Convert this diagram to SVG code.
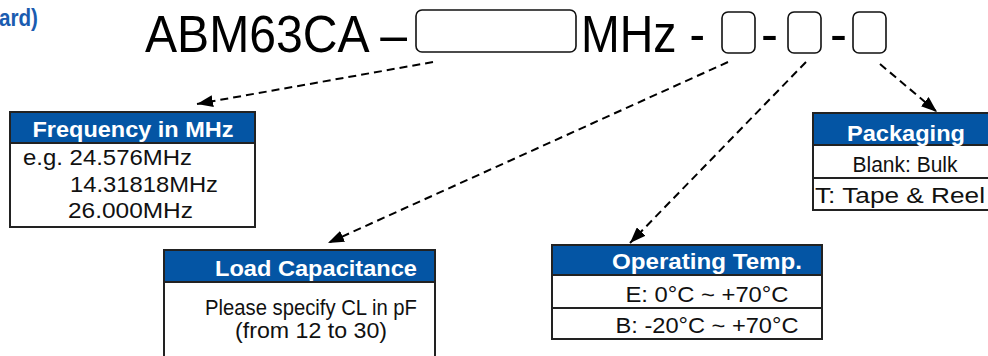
<svg xmlns="http://www.w3.org/2000/svg" width="988" height="356" viewBox="0 0 988 356">
<defs>
<marker id="ah" viewBox="0 0 16 12" refX="16" refY="6" markerWidth="16" markerHeight="12" markerUnits="userSpaceOnUse" orient="auto">
<path d="M0,0 L16,6 L0,12 z" fill="#000"/>
</marker>
<style>
.t{font-family:"Liberation Sans",Arial,sans-serif;fill:#000}
.h{font-family:"Liberation Sans",Arial,sans-serif;font-weight:bold;fill:#fff;font-size:21.5px}
.b{font-family:"Liberation Sans",Arial,sans-serif;fill:#111;font-size:21.5px}
.hd{fill:#0455a4}
.bx{fill:#fff;stroke:#222;stroke-width:2}
.sl{stroke:#222;stroke-width:2}
.fld{fill:#fff;stroke:#111;stroke-width:1.6}
.c{fill:none;stroke:#000;stroke-width:2;stroke-dasharray:8 5}
</style>
</defs>
<rect width="988" height="356" fill="#fff"/>
<text x="-1" y="26" style="font-family:'Liberation Sans',Arial,sans-serif;font-weight:bold;font-size:23px;fill:#1a5cb0" textLength="39" lengthAdjust="spacingAndGlyphs">ard)</text>
<g id="title">
<text class="t" x="145" y="52" font-size="51" textLength="262" lengthAdjust="spacingAndGlyphs">ABM63CA –</text>
<rect class="fld" x="416" y="10" width="160" height="42" rx="6"/>
<text class="t" x="581" y="52" font-size="51" textLength="124" lengthAdjust="spacingAndGlyphs">MHz -</text>
<rect class="fld" x="722" y="12" width="33" height="41" rx="6"/>
<text class="t" x="761" y="52" font-size="51">-</text>
<rect class="fld" x="788" y="12" width="33" height="41" rx="6"/>
<text class="t" x="830" y="52" font-size="51">-</text>
<rect class="fld" x="853" y="12" width="33" height="41" rx="6"/>
</g>
<g id="connectors">
<line class="c" x1="433" y1="62" x2="197" y2="104" marker-end="url(#ah)"/>
<line class="c" x1="728" y1="62" x2="328" y2="243" marker-end="url(#ah)"/>
<line class="c" x1="806" y1="62" x2="630" y2="243" marker-end="url(#ah)"/>
<line class="c" x1="880" y1="64" x2="937" y2="112" marker-end="url(#ah)"/>
</g>
<g id="frequency">
<rect class="bx" x="10" y="112" width="245" height="115"/>
<rect class="hd" x="11" y="113" width="243" height="30"/>
<line class="sl" x1="10" y1="143" x2="255" y2="143"/>
<text class="h" x="133" y="137" text-anchor="middle" textLength="201" lengthAdjust="spacingAndGlyphs">Frequency in MHz</text>
<text class="b" x="23" y="165" textLength="169" lengthAdjust="spacingAndGlyphs">e.g. 24.576MHz</text>
<text class="b" x="70" y="192" textLength="148" lengthAdjust="spacingAndGlyphs">14.31818MHz</text>
<text class="b" x="68" y="218" textLength="125" lengthAdjust="spacingAndGlyphs">26.000MHz</text>
</g>
<g id="load">
<path class="bx" d="M164,358 V250 H435 V358"/>
<rect class="hd" x="165" y="251" width="269" height="31"/>
<line class="sl" x1="164" y1="282" x2="435" y2="282"/>
<text class="h" x="316" y="276" text-anchor="middle" textLength="202" lengthAdjust="spacingAndGlyphs">Load Capacitance</text>
<text class="b" x="311" y="315" text-anchor="middle" textLength="212" lengthAdjust="spacingAndGlyphs">Please specify CL in pF</text>
<text class="b" x="311" y="338" text-anchor="middle" textLength="152" lengthAdjust="spacingAndGlyphs">(from 12 to 30)</text>
</g>
<g id="temp">
<rect class="bx" x="552" y="245" width="270" height="94"/>
<rect class="hd" x="553" y="246" width="268" height="29"/>
<line class="sl" x1="552" y1="275" x2="822" y2="275"/>
<line class="sl" x1="552" y1="308" x2="822" y2="308"/>
<text class="h" x="707" y="269" text-anchor="middle" textLength="190" lengthAdjust="spacingAndGlyphs">Operating Temp.</text>
<text class="b" x="707" y="302" text-anchor="middle" textLength="163" lengthAdjust="spacingAndGlyphs">E: 0°C ~ +70°C</text>
<text class="b" x="707" y="333" text-anchor="middle" textLength="183" lengthAdjust="spacingAndGlyphs">B: -20°C ~ +70°C</text>
</g>
<g id="packaging">
<rect class="bx" x="813" y="113" width="180" height="97"/>
<rect class="hd" x="814" y="114" width="178" height="31"/>
<line class="sl" x1="813" y1="145" x2="990" y2="145"/>
<line class="sl" x1="813" y1="178" x2="990" y2="178"/>
<text class="h" x="906" y="141" text-anchor="middle" textLength="118" lengthAdjust="spacingAndGlyphs">Packaging</text>
<text class="b" x="905" y="172" text-anchor="middle" textLength="105" lengthAdjust="spacingAndGlyphs">Blank: Bulk</text>
<text class="b" x="900" y="203" text-anchor="middle" textLength="170" lengthAdjust="spacingAndGlyphs">T: Tape &amp; Reel</text>
</g>
</svg>
